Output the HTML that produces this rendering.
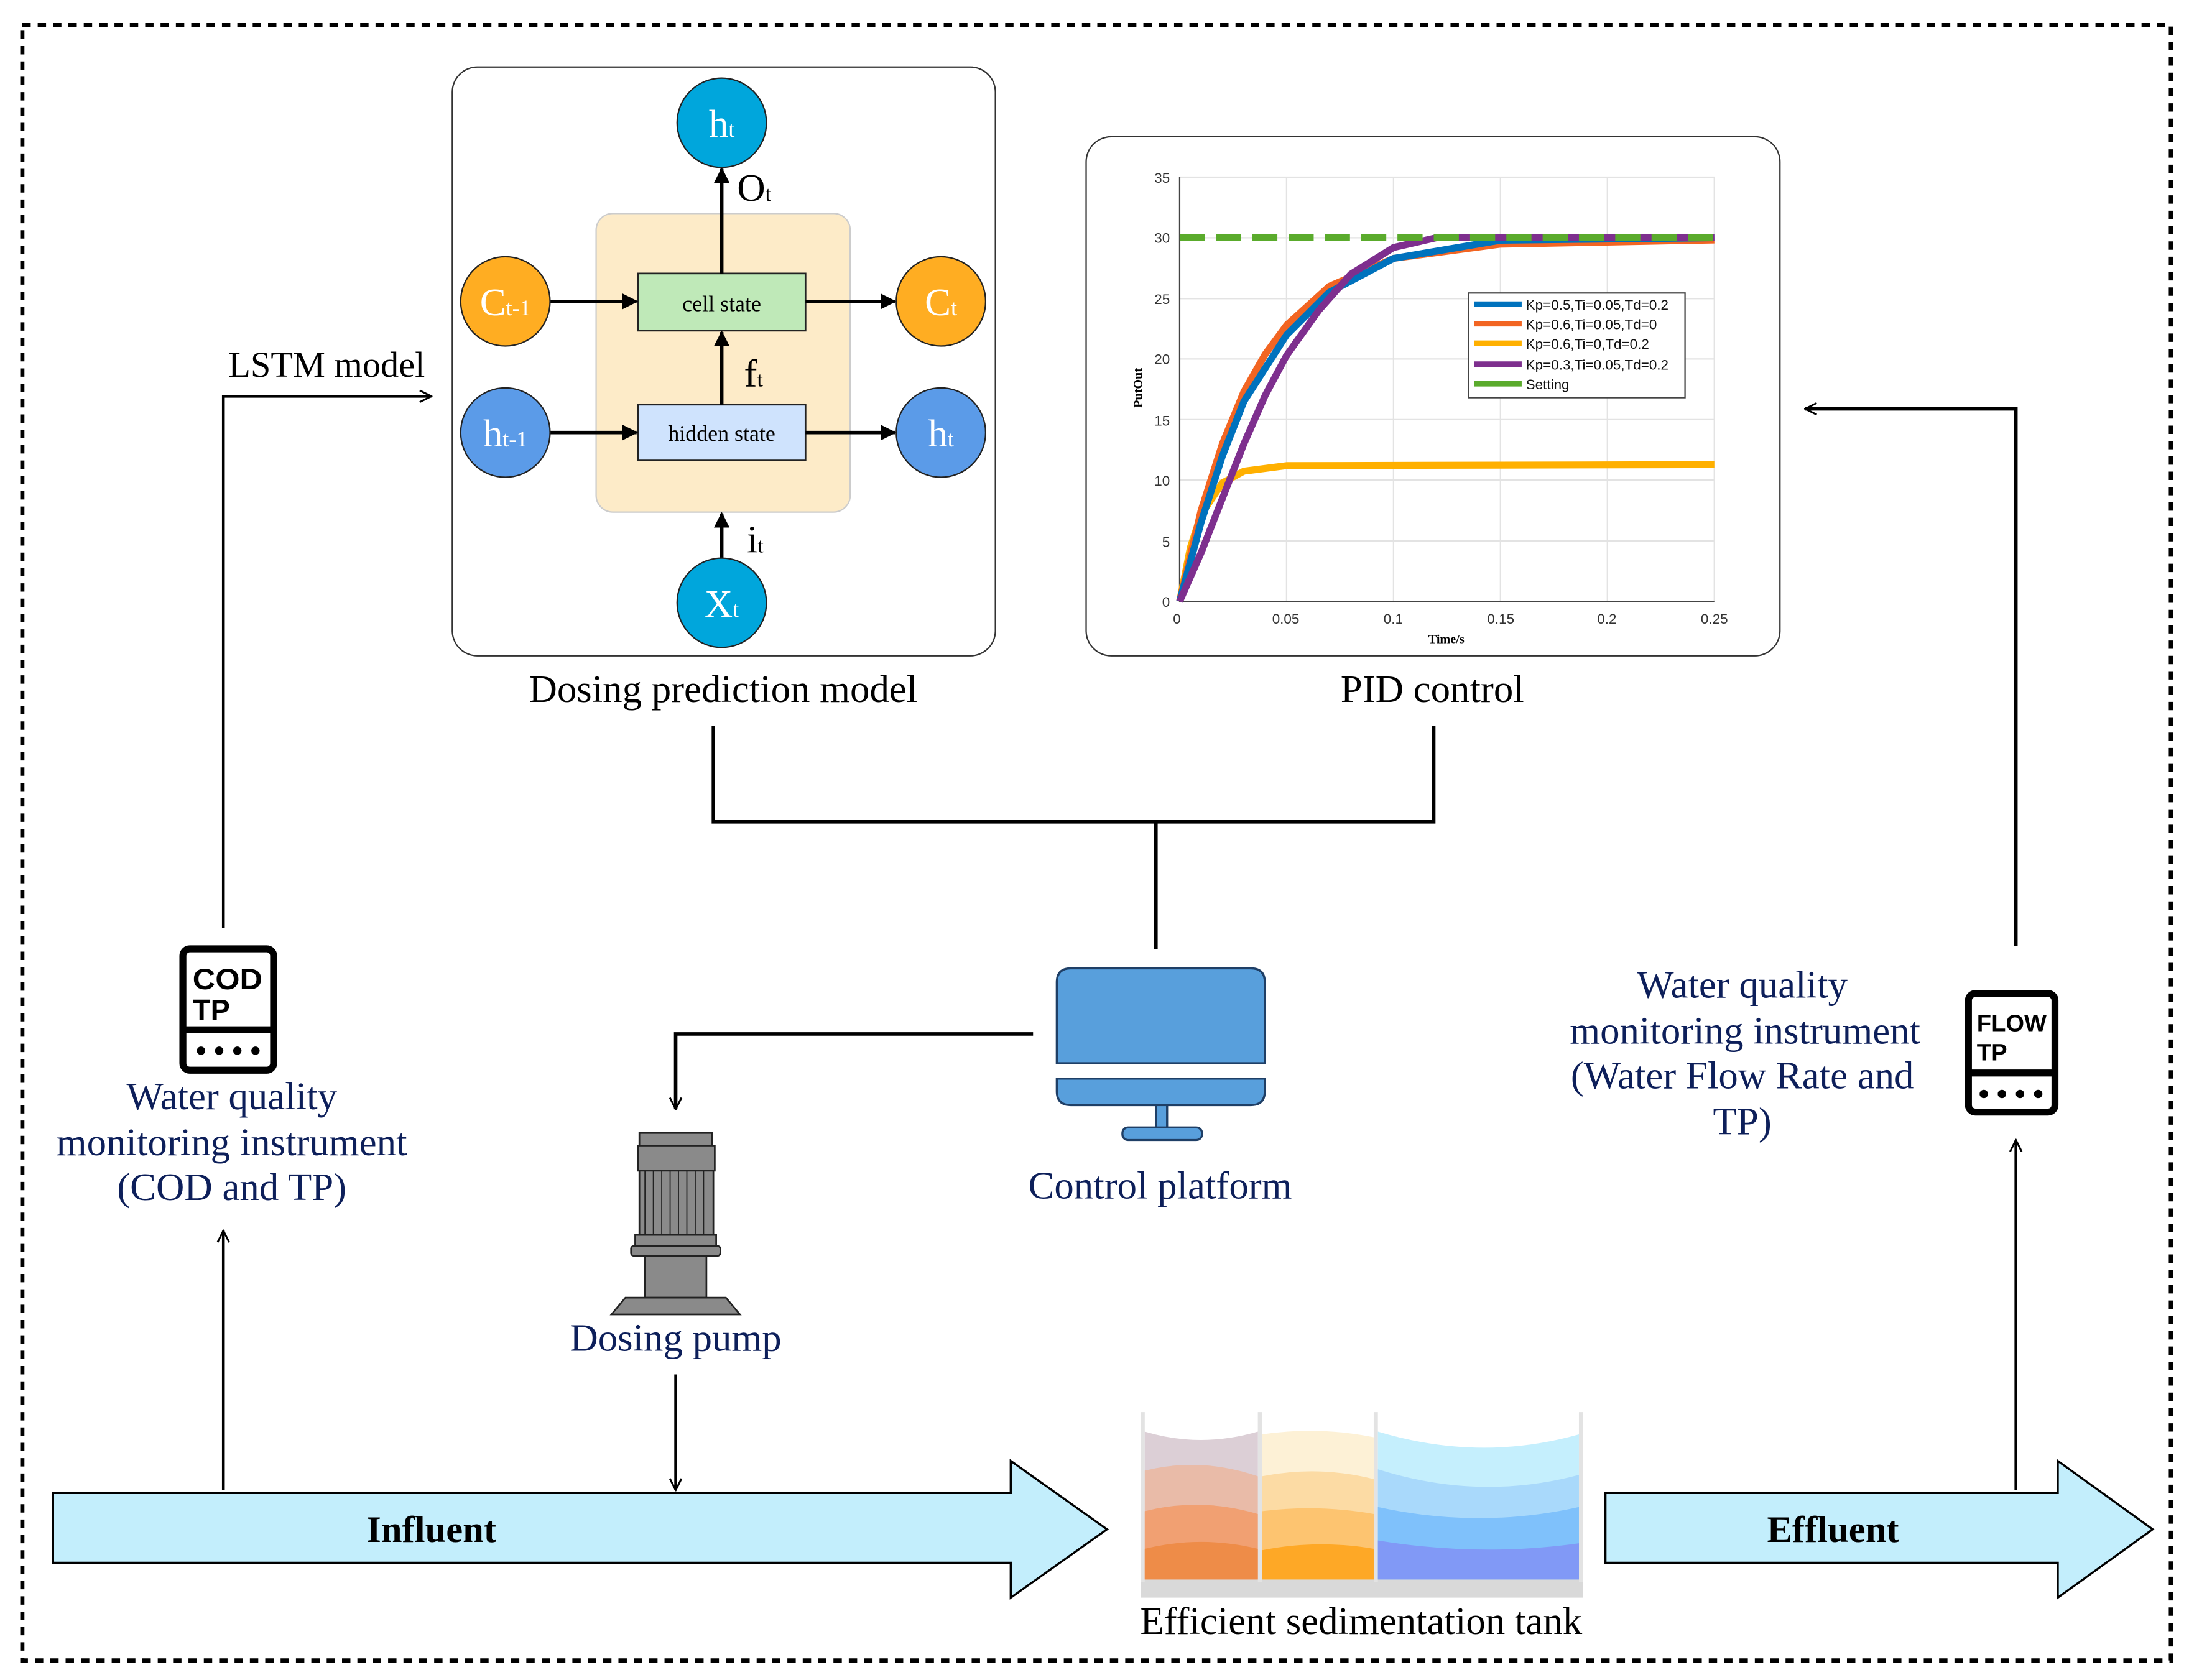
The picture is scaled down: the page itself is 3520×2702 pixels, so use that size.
<!DOCTYPE html>
<html><head><meta charset="utf-8"><style>
html,body{margin:0;padding:0;background:#fff;}
svg{display:block;}
.s{font-family:"Liberation Serif",serif;}
.n{font-family:"Liberation Serif",serif;fill:#0d1f5a;font-size:28px;text-anchor:middle;}
.b{font-family:"Liberation Serif",serif;fill:#000;font-size:28px;text-anchor:middle;}
.ax{font-family:"Liberation Sans",sans-serif;font-size:10px;fill:#333;}
.lg{font-family:"Liberation Sans",sans-serif;font-size:10px;fill:#111;}
.ci{font-family:"Liberation Serif",serif;fill:#fff;font-size:28px;text-anchor:middle;}
.dv{font-family:"Liberation Sans",sans-serif;font-weight:bold;}
</style></head><body>
<svg width="3520" height="2702" viewBox="0 0 1568 1204" preserveAspectRatio="none" xmlns="http://www.w3.org/2000/svg">
<defs>
<marker id="fa" viewBox="0 0 10 10" refX="9" refY="5" markerWidth="4.5" markerHeight="4.5" orient="auto"><path d="M0,0 L10,5 L0,10 z" fill="#000"/></marker>
<marker id="oa" viewBox="0 0 12 12" refX="11" refY="6" markerWidth="10" markerHeight="10" markerUnits="userSpaceOnUse" orient="auto"><path d="M1,1 L11,6 L1,11" fill="none" stroke="#000" stroke-width="1.6"/></marker>
</defs>
<rect x="16" y="18" width="1539" height="1172" fill="none" stroke="#000" stroke-width="3" stroke-dasharray="6,5"/>

<rect x="324" y="48" width="389" height="422" rx="18" fill="#fff" stroke="#333" stroke-width="1"/>
<rect x="427" y="153" width="182" height="214" rx="12" fill="#fdebc8" stroke="#ccc" stroke-width="1"/>
<rect x="457" y="196" width="120" height="41" fill="#bfe9b8" stroke="#222" stroke-width="1.2"/>
<text class="s" x="517" y="223" font-size="16" text-anchor="middle">cell state</text>
<rect x="457" y="290" width="120" height="40" fill="#cfe3fd" stroke="#222" stroke-width="1.2"/>
<text class="s" x="517" y="316" font-size="16" text-anchor="middle">hidden state</text>
<g stroke="#000" stroke-width="2.5" marker-end="url(#fa)">
<line x1="394" y1="216" x2="456" y2="216"/>
<line x1="577" y1="216" x2="641" y2="216"/>
<line x1="394" y1="310" x2="456" y2="310"/>
<line x1="577" y1="310" x2="641" y2="310"/>
<line x1="517" y1="196" x2="517" y2="121"/>
<line x1="517" y1="290" x2="517" y2="238"/>
<line x1="517" y1="400" x2="517" y2="368"/>
</g>
<g stroke="#222" stroke-width="1">
<circle cx="517" cy="88" r="32" fill="#00a6dc"/>
<circle cx="362" cy="216" r="32" fill="#ffad22"/>
<circle cx="674" cy="216" r="32" fill="#ffad22"/>
<circle cx="362" cy="310" r="32" fill="#5b9be8"/>
<circle cx="674" cy="310" r="32" fill="#5b9be8"/>
<circle cx="517" cy="432" r="32" fill="#00a6dc"/>
</g>
<text class="ci" x="517" y="98">h<tspan font-size="16">t</tspan></text>
<text class="ci" x="362" y="226">C<tspan font-size="16">t-1</tspan></text>
<text class="ci" x="674" y="226">C<tspan font-size="16">t</tspan></text>
<text class="ci" x="362" y="320">h<tspan font-size="16">t-1</tspan></text>
<text class="ci" x="674" y="320">h<tspan font-size="16">t</tspan></text>
<text class="ci" x="517" y="442">X<tspan font-size="16">t</tspan></text>
<text class="s" x="528" y="144" font-size="28">O<tspan font-size="15">t</tspan></text>
<text class="s" x="533" y="277" font-size="28">f<tspan font-size="15">t</tspan></text>
<text class="s" x="535" y="396" font-size="28">i<tspan font-size="15">t</tspan></text>
<text class="b" x="518" y="503">Dosing prediction model</text>

<text class="s" x="234" y="270" font-size="26" text-anchor="middle">LSTM model</text>
<polyline points="160,665 160,284 309,284" fill="none" stroke="#000" stroke-width="2" marker-end="url(#oa)"/>

<rect x="778" y="98" width="497" height="372" rx="18" fill="#fff" stroke="#333" stroke-width="1"/>
<g stroke="#e3e3e3" stroke-width="1">
<line x1="845" y1="127" x2="1228" y2="127"/><line x1="845" y1="170.4" x2="1228" y2="170.4"/>
<line x1="845" y1="214" x2="1228" y2="214"/><line x1="845" y1="257.3" x2="1228" y2="257.3"/>
<line x1="845" y1="300.7" x2="1228" y2="300.7"/><line x1="845" y1="344" x2="1228" y2="344"/>
<line x1="845" y1="387.6" x2="1228" y2="387.6"/>
<line x1="921.6" y1="127" x2="921.6" y2="431"/><line x1="998.2" y1="127" x2="998.2" y2="431"/>
<line x1="1074.8" y1="127" x2="1074.8" y2="431"/><line x1="1151.4" y1="127" x2="1151.4" y2="431"/>
<line x1="1228" y1="127" x2="1228" y2="431"/>
</g>
<polyline points="845,127 845,431 1228,431" fill="none" stroke="#444" stroke-width="1"/>
<g class="ax" text-anchor="end">
<text x="838" y="131">35</text><text x="838" y="174">30</text><text x="838" y="218">25</text><text x="838" y="261">20</text><text x="838" y="305">15</text><text x="838" y="348">10</text><text x="838" y="392">5</text><text x="838" y="435">0</text>
</g>
<g class="ax" text-anchor="middle">
<text x="843" y="447">0</text><text x="921" y="447">0.05</text><text x="998" y="447">0.1</text><text x="1075" y="447">0.15</text><text x="1151" y="447">0.2</text><text x="1228" y="447">0.25</text>
</g>
<text class="s" x="1036" y="461" font-size="9" font-weight="bold" text-anchor="middle">Time/s</text>
<text class="s" x="0" y="0" font-size="9" font-weight="bold" text-anchor="middle" transform="translate(818,278) rotate(-90)">PutOut</text>
<g fill="none" stroke-width="5" stroke-linejoin="round">
<polyline stroke="#ffb000" points="845,431 852.7,392.3 860.3,369 875.6,346.1 891,337.7 921.6,333.7 1228,333"/>
<polyline stroke="#f26522" points="845,431 860.3,366.1 875.6,318.1 891,280.7 906.3,253.8 921.6,233 952.2,205.2 998.2,185.2 1074.8,175 1228,172"/>
<polyline stroke="#0072bd" points="845,431 860.3,374.5 875.6,326.8 891,287.7 921.6,240 952.2,209.5 998.2,185.2 1074.8,172.2 1228,170.4"/>
<polyline stroke="#7e2f8e" points="845,431 860.3,396.3 875.6,357.2 891,318.1 906.3,283.3 921.6,254.7 944.6,222.5 967.6,196.5 998.2,177.4 1028.8,170.4 1228,170.4"/>
<line x1="845" y1="170.4" x2="1228" y2="170.4" stroke="#5aab2c" stroke-dasharray="18,8"/>
</g>
<rect x="1052" y="210" width="155" height="75" fill="#fff" stroke="#444" stroke-width="1"/>
<g stroke-width="4">
<line x1="1056" y1="218" x2="1090" y2="218" stroke="#0072bd"/>
<line x1="1056" y1="232" x2="1090" y2="232" stroke="#f26522"/>
<line x1="1056" y1="246" x2="1090" y2="246" stroke="#ffb000"/>
<line x1="1056" y1="261" x2="1090" y2="261" stroke="#7e2f8e"/>
<line x1="1056" y1="275" x2="1090" y2="275" stroke="#5aab2c"/>
</g>
<g class="lg">
<text x="1093" y="222">Kp=0.5,Ti=0.05,Td=0.2</text>
<text x="1093" y="236">Kp=0.6,Ti=0.05,Td=0</text>
<text x="1093" y="250">Kp=0.6,Ti=0,Td=0.2</text>
<text x="1093" y="265">Kp=0.3,Ti=0.05,Td=0.2</text>
<text x="1093" y="279">Setting</text>
</g>
<text class="b" x="1026" y="503">PID control</text>

<polyline points="511,520 511,589 1027,589 1027,520" fill="none" stroke="#000" stroke-width="2.5"/>
<line x1="828" y1="589" x2="828" y2="680" stroke="#000" stroke-width="2.5"/>
<polyline points="740,741 484,741 484,795" fill="none" stroke="#000" stroke-width="2.5" marker-end="url(#oa)"/>
<line x1="484" y1="985" x2="484" y2="1068" stroke="#000" stroke-width="2" marker-end="url(#oa)"/>
<line x1="160" y1="1068" x2="160" y2="882" stroke="#000" stroke-width="2" marker-end="url(#oa)"/>
<line x1="1444" y1="1068" x2="1444" y2="817" stroke="#000" stroke-width="2" marker-end="url(#oa)"/>
<polyline points="1444,678 1444,293 1293,293" fill="none" stroke="#000" stroke-width="2.5" marker-end="url(#oa)"/>

<g fill="#589fdc" stroke="#1f3f66" stroke-width="1.5">
<path d="M767,694 H896 Q906,694 906,704 V762 H757 V704 Q757,694 767,694 Z"/>
<path d="M757,773 H906 V782 Q906,792 896,792 H767 Q757,792 757,782 Z"/>
<rect x="828" y="792" width="8" height="17"/>
<rect x="804" y="808" width="57" height="9" rx="4"/>
</g>
<text class="n" x="831" y="859">Control platform</text>

<g fill="#8a8a8a" stroke="#222" stroke-width="1.2">
<rect x="458" y="812" width="52" height="10"/>
<rect x="457" y="821" width="55" height="18"/>
<rect x="458" y="839" width="53" height="46"/>
<path d="M462,839 V885 M468,839 V885 M474,839 V885 M480,839 V885 M486,839 V885 M492,839 V885 M498,839 V885 M504,839 V885" stroke-width="0.8"/>
<path d="M455,885 H513 L513,893 H455 Z"/>
<rect x="452" y="893" width="64" height="7" rx="2"/>
<rect x="462" y="900" width="44" height="30"/>
<path d="M448,930 H520 L530,942 H438 Z"/>
</g>
<text class="n" x="484" y="968">Dosing pump</text>

<rect x="131" y="680" width="65" height="87" rx="5" fill="#fff" stroke="#000" stroke-width="5"/>
<line x1="131" y1="738" x2="196" y2="738" stroke="#000" stroke-width="5"/>
<text class="dv" x="138" y="709" font-size="21" textLength="50" lengthAdjust="spacingAndGlyphs">COD</text>
<text class="dv" x="138" y="731" font-size="21">TP</text>
<g fill="#000"><circle cx="144" cy="753" r="3"/><circle cx="157" cy="753" r="3"/><circle cx="170" cy="753" r="3"/><circle cx="183" cy="753" r="3"/></g>
<text class="n" x="166" y="795">Water quality</text>
<text class="n" x="166" y="828">monitoring instrument</text>
<text class="n" x="166" y="860">(COD and TP)</text>

<rect x="1410" y="712" width="62" height="85" rx="5" fill="#fff" stroke="#000" stroke-width="5"/>
<line x1="1410" y1="769" x2="1472" y2="769" stroke="#000" stroke-width="5"/>
<text class="dv" x="1416" y="739" font-size="17" textLength="50" lengthAdjust="spacingAndGlyphs">FLOW</text>
<text class="dv" x="1416" y="760" font-size="17">TP</text>
<g fill="#000"><circle cx="1421" cy="784" r="3"/><circle cx="1434" cy="784" r="3"/><circle cx="1447" cy="784" r="3"/><circle cx="1460" cy="784" r="3"/></g>
<text class="n" x="1248" y="715">Water quality</text>
<text class="n" x="1250" y="748">monitoring instrument</text>
<text class="n" x="1248" y="780">(Water Flow Rate and</text>
<text class="n" x="1248" y="813">TP)</text>

<path d="M38,1070 H724 V1047 L793,1096 L724,1145 V1120 H38 Z" fill="#c3eefc" stroke="#000" stroke-width="1.5"/>
<text class="s" x="309" y="1105" font-size="27" font-weight="bold" text-anchor="middle">Influent</text>
<path d="M1150,1070 H1474 V1047 L1542,1096 L1474,1145 V1120 H1150 Z" fill="#c3eefc" stroke="#000" stroke-width="1.5"/>
<text class="s" x="1313" y="1105" font-size="27" font-weight="bold" text-anchor="middle">Effluent</text>

<rect x="817" y="1132" width="317" height="13" fill="#d9d9d9"/>
<rect x="817" y="1012" width="3" height="122" fill="#e3e3e3"/>
<rect x="901" y="1012" width="3" height="122" fill="#e3e3e3"/>
<rect x="984" y="1012" width="3" height="122" fill="#e3e3e3"/>
<rect x="1131" y="1012" width="3" height="122" fill="#e3e3e3"/>
<path d="M820,1026 Q860,1038 901,1026 V1132 H820 Z" fill="#dccfd6"/>
<path d="M820,1054 Q860,1044 901,1058 V1132 H820 Z" fill="#e9bba8"/>
<path d="M820,1083 Q860,1073 901,1085 V1132 H820 Z" fill="#f1a072"/>
<path d="M820,1110 Q860,1100 901,1110 V1132 H820 Z" fill="#ee8c48"/>
<path d="M904,1028 Q944,1022 984,1030 V1132 H904 Z" fill="#fdf1d6"/>
<path d="M904,1058 Q944,1050 984,1060 V1132 H904 Z" fill="#fcdba4"/>
<path d="M904,1083 Q944,1078 984,1085 V1132 H904 Z" fill="#fdc470"/>
<path d="M904,1111 Q944,1103 984,1110 V1132 H904 Z" fill="#fea826"/>
<path d="M987,1026 Q1060,1048 1131,1028 V1132 H987 Z" fill="#c5effd"/>
<path d="M987,1053 Q1060,1076 1131,1057 V1132 H987 Z" fill="#a9d9fb"/>
<path d="M987,1080 Q1060,1096 1131,1080 V1132 H987 Z" fill="#7fc1fb"/>
<path d="M987,1104 Q1060,1116 1131,1106 V1132 H987 Z" fill="#8199f6"/>
<text class="b" x="975" y="1171">Efficient sedimentation tank</text>
</svg>
</body></html>
